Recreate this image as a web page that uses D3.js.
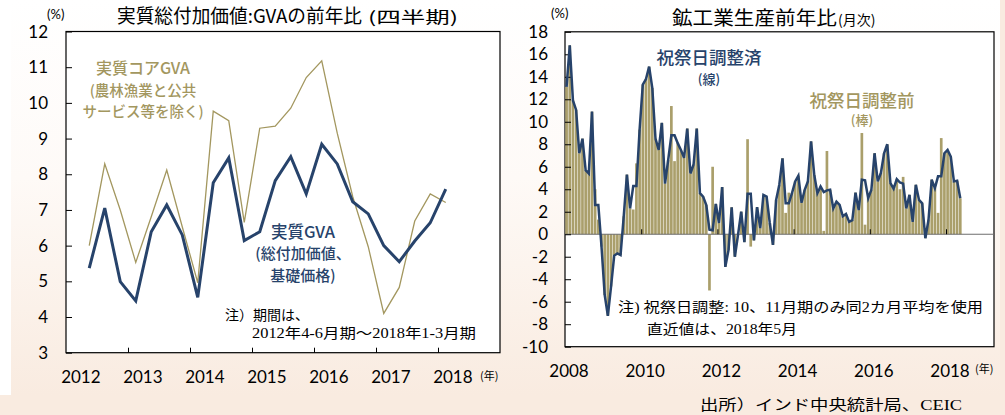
<!DOCTYPE html>
<html>
<head>
<meta charset="utf-8">
<script src="https://cdnjs.cloudflare.com/ajax/libs/d3/7.8.5/d3.min.js"></script>
<style>
body { margin: 0; background: #f9ebe0; }
#canvas { width: 1005px; height: 415px; }
</style>
</head>
<body>
<div id="canvas"></div>
<script>
"use strict"

/* data: left chart, quarterly 2012 Apr-Jun .. 2018 Jan-Mar */
let gvaStart = 2012.25;
let gvaReal = [5.37, 7.05, 4.99, 4.45, 6.39, 7.14, 6.30, 4.55, 7.76, 8.46, 6.14, 6.39,
    7.82, 8.49, 7.45, 8.84, 8.29, 7.23, 6.89, 6.00, 5.55, 6.13, 6.64, 7.58];
let gvaCore = [6.00, 8.29, 7.00, 5.53, 6.81, 8.12, 6.53, 4.96, 9.77, 9.50, 6.65, 9.29,
    9.35, 9.85, 10.71, 11.18, 9.15, 7.37, 5.97, 4.10, 4.83, 6.69, 7.45, 7.21];
let gvaYears = [2012, 2013, 2014, 2015, 2016, 2017, 2018];
let gvaTicks = [3, 4, 5, 6, 7, 8, 9, 10, 11, 12];

/* data: right chart, monthly 2008 Jan .. 2018 May */
let ipStart = 2008;
let ipAdjusted = [13.1, 16.8, 11.9, 11.05, 7.2, 8.5, 5.7, 5.4, 10.9, 2.6, 2.6, -1.1,
    -5.4, -7.25, -4.65, -1.9, -1.7, -1.85, 1.6, 5.3, 2.3, 4.3, 4.3, 9.3,
    13.3, 13.8, 14.9, 13.0, 8.5, 7.5, 9.9, 4.5, 6.6, 8.8, 8.8, 8.1,
    7.5, 6.8, 9.4, 5.4, 6.2, 9.4, 3.65, 3.35, 2.6, 0.4, 0.35, 2.7,
    1.0, 4.2, -2.9, -1.4, 2.4, -2.0, -0.05, 2.0, -0.7, 3.6, 3.6, -0.55,
    2.4, 0.55, 3.5, 3.35, 1.0, -0.95, 3.05, 4.4, 6.75, 2.75, 2.75, 3.65,
    4.7, 5.2, 2.8, 3.95, 4.7, 8.25, 5.3, 3.65, 4.25, 3.75, 3.9, 3.95,
    2.3, 2.9, 2.6, 1.6, 1.8, 1.1, 1.25, 3.7, 2.15, 4.85, 4.8, 3.2,
    3.95, 7.2, 4.7, 5.45, 7.2, 8.0, 4.55, 4.05, 4.9, 4.6, 4.5, 2.3,
    3.5, 1.1, 4.4, 3.05, 2.75, -0.35, 1.3, 4.85, 4.1, 5.15, 5.15, 7.2,
    7.5, 6.9, 4.7, 4.75, 3.2];
let ipRaw = [13.1, 16.8, 11.9, 11.05, 7.2, 8.5, 5.7, 5.4, 10.9, 4.0, 1.3, -1.1,
    -5.4, -7.25, -4.65, -1.9, -1.7, -1.85, 1.6, 5.3, 2.3, 2.2, 6.3, 9.3,
    13.3, 13.8, 14.9, 13.0, 8.5, 7.5, 9.9, 4.5, 6.6, 11.4, 6.5, 8.1,
    7.5, 6.8, 9.4, 5.4, 6.2, 9.4, 3.65, 3.35, 2.6, -5.0, 6.0, 2.7,
    1.0, 4.2, -2.9, -1.4, 2.4, -2.0, -0.05, 2.0, -0.7, 8.45, -1.1, -0.55,
    2.4, 0.55, 3.5, 3.35, 1.0, -0.95, 3.05, 4.4, 6.75, 1.9, 3.7, 3.65,
    4.7, 5.2, 2.8, 3.95, 4.7, 8.25, 5.3, 3.65, 4.25, 0.3, 7.4, 3.95,
    2.3, 2.9, 2.6, 1.6, 1.8, 1.1, 1.25, 3.7, 2.15, 9.0, 0.85, 3.2,
    3.95, 7.2, 4.7, 5.45, 7.2, 8.0, 4.55, 4.05, 4.9, 4.0, 5.1, 2.3,
    3.5, 1.1, 4.4, 3.05, 2.75, -0.35, 1.3, 4.85, 4.1, 1.9, 8.55, 7.2,
    7.5, 6.9, 4.7, 4.75, 3.2];
let ipYears = [2008, 2010, 2012, 2014, 2016, 2018];
let ipTicks = [-10, -8, -6, -4, -2, 0, 2, 4, 6, 8, 10, 12, 14, 16, 18];

let navy = "#27436b";
let olive = "#a3975f";
let barFill = "#aa9f6b";
let numFont = "'Liberation Sans Narrow', Lato, sans-serif";
let jpFont = "'Noto Sans CJK JP', sans-serif";
let noteFont = "'Liberation Serif', 'Noto Sans CJK JP', serif";

let drawing = d3.select("#canvas")
    .append("svg")
    .attr("width", 1005)
    .attr("height", 415);

/* background: white fading into peach */
let grad = drawing.append("defs").append("linearGradient")
    .attr("id", "bg")
    .attr("x1", 0).attr("y1", 0).attr("x2", 0).attr("y2", 1);
grad.append("stop").attr("offset", "0%").attr("stop-color", "#ffffff");
grad.append("stop").attr("offset", "45%").attr("stop-color", "#fefaf7");
grad.append("stop").attr("offset", "100%").attr("stop-color", "#f9ebe0");

drawing.append("rect")
    .attr("x", 0).attr("y", 0)
    .attr("width", 1000).attr("height", 395)
    .attr("fill", "url(#bg)");

drawing.append("rect")
    .attr("x", 0).attr("y", 0)
    .attr("width", 11).attr("height", 395)
    .attr("fill", "#ffffff");

/* ---------- left chart ---------- */
let xL = d3.scaleLinear().domain([2012, 2019]).range([66, 500]);
let yL = d3.scaleLinear().domain([3, 12]).range([352.7, 31.5]);

drawing.append("rect")
    .attr("x", xL(2012)).attr("y", yL(12))
    .attr("width", xL(2019) - xL(2012))
    .attr("height", yL(3) - yL(12))
    .attr("fill", "#ffffff")
    .attr("stroke", "#000000")
    .attr("stroke-width", 1.2);

/* y axis, ticks inside */
let leftAxis = drawing.append("g")
    .attr("transform", "translate(" + xL(2012) + ",0)")
    .call(d3.axisRight(yL).tickValues(gvaTicks).tickSize(6).tickFormat(""));
leftAxis.select(".domain").remove();

drawing.selectAll(".yLabL")
    .data(gvaTicks)
    .enter().append("text")
    .attr("x", 48)
    .attr("y", d => yL(d) + 6)
    .attr("text-anchor", "end")
    .attr("font-family", numFont)
    .attr("font-size", 17)
    .text(d => d);

/* x axis ticks at year boundaries, pointing up */
let bottomAxis = drawing.append("g")
    .attr("transform", "translate(0," + yL(3) + ")")
    .call(d3.axisTop(xL).tickValues(gvaYears.slice(1)).tickSize(5).tickFormat(""));
bottomAxis.select(".domain").remove();

drawing.selectAll(".xLabL")
    .data(gvaYears)
    .enter().append("text")
    .attr("x", d => xL(d + 0.24))
    .attr("y", 383)
    .attr("text-anchor", "middle")
    .attr("font-family", numFont)
    .attr("font-size", 17)
    .text(d => d);

drawing.append("text")
    .attr("x", 480).attr("y", 380)
    .attr("font-family", jpFont)
    .attr("font-size", 11)
    .text("(年)");

drawing.append("text")
    .attr("x", 47).attr("y", 19)
    .attr("font-family", numFont)
    .attr("font-size", 13)
    .text("(%)");

/* lines */
let lineL = d3.line()
    .x((d, i) => xL(gvaStart + i * 0.25 + 0.125))
    .y(d => yL(d));

drawing.append("path")
    .attr("d", lineL(gvaCore))
    .attr("fill", "none")
    .attr("stroke", olive)
    .attr("stroke-width", 1.3);

drawing.append("path")
    .attr("d", lineL(gvaReal))
    .attr("fill", "none")
    .attr("stroke", navy)
    .attr("stroke-width", 3)
    .attr("stroke-linejoin", "miter");

/* left titles and labels */
drawing.append("text")
    .attr("x", 117).attr("y", 23)
    .attr("font-family", jpFont)
    .attr("font-size", 19)
    .attr("textLength", 245)
    .attr("lengthAdjust", "spacingAndGlyphs")
    .text("実質総付加価値:GVAの前年比");
drawing.append("text")
    .attr("x", 368).attr("y", 23)
    .attr("font-family", jpFont)
    .attr("font-size", 16)
    .attr("textLength", 90)
    .attr("lengthAdjust", "spacingAndGlyphs")
    .text("(四半期)");

let coreLabel = ["実質コアGVA", "(農林漁業と公共", "サービス等を除く)"];
drawing.selectAll(".coreLab")
    .data(coreLabel)
    .enter().append("text")
    .attr("x", 143)
    .attr("y", (d, i) => [74, 96, 117][i])
    .attr("text-anchor", "middle")
    .attr("font-family", jpFont)
    .attr("font-weight", 500)
    .attr("font-size", (d, i) => i == 0 ? 16 : 14.5)
    .attr("fill", olive)
    .text(d => d);

let gvaLabel = ["実質GVA", "(総付加価値、", "基礎価格)"];
drawing.selectAll(".gvaLab")
    .data(gvaLabel)
    .enter().append("text")
    .attr("x", 303)
    .attr("y", (d, i) => [238, 259, 281][i])
    .attr("text-anchor", "middle")
    .attr("font-family", jpFont)
    .attr("font-weight", 500)
    .attr("font-size", (d, i) => i == 0 ? 16.5 : 15)
    .attr("fill", navy)
    .text(d => d);

drawing.append("text")
    .attr("x", 225).attr("y", 320)
    .attr("font-family", noteFont)
    .attr("font-size", 14)
    .text("注）期間は、");
drawing.append("text")
    .attr("x", 252).attr("y", 338)
    .attr("font-family", noteFont)
    .attr("font-size", 14)
    .attr("textLength", 224)
    .attr("lengthAdjust", "spacingAndGlyphs")
    .text("2012年4-6月期～2018年1-3月期");

/* ---------- right chart ---------- */
let xR = d3.scaleLinear().domain([2008, 2019.26]).range([565, 994]);
let yR = d3.scaleLinear().domain([-10, 18]).range([346.7, 31.8]);
let monthW = xR(2008 + 1 / 12) - xR(2008);

drawing.append("rect")
    .attr("x", xR(2008)).attr("y", yR(18))
    .attr("width", xR(2019.26) - xR(2008))
    .attr("height", yR(-10) - yR(18))
    .attr("fill", "#ffffff")
    .attr("stroke", "#000000")
    .attr("stroke-width", 1.2);

/* bars (before holiday adjustment) */
drawing.selectAll(".ipBar")
    .data(ipRaw)
    .enter().append("rect")
    .attr("x", (d, i) => xR(ipStart + i / 12) + 0.25)
    .attr("y", d => yR(Math.max(0, d)))
    .attr("width", monthW - 0.5)
    .attr("height", d => Math.abs(yR(d) - yR(0)))
    .attr("fill", barFill);

/* zero line */
drawing.append("line")
    .attr("x1", xR(2008)).attr("x2", xR(2019.26))
    .attr("y1", yR(0)).attr("y2", yR(0))
    .attr("stroke", "#6e6e6e")
    .attr("stroke-width", 1.2);

/* ticks */
let rightAxis = drawing.append("g")
    .attr("transform", "translate(" + xR(2008) + ",0)")
    .call(d3.axisRight(yR).tickValues(ipTicks).tickSize(6).tickFormat(""));
rightAxis.select(".domain").remove();

let zeroAxis = drawing.append("g")
    .attr("transform", "translate(0," + yR(0) + ")")
    .call(d3.axisTop(xR).tickValues(ipYears.slice(1)).tickSize(5).tickFormat(""));
zeroAxis.select(".domain").remove();

drawing.selectAll(".yLabR")
    .data(ipTicks)
    .enter().append("text")
    .attr("x", 548)
    .attr("y", d => yR(d) + 6)
    .attr("text-anchor", "end")
    .attr("font-family", numFont)
    .attr("font-size", 17)
    .text(d => d);

drawing.selectAll(".xLabR")
    .data(ipYears)
    .enter().append("text")
    .attr("x", d => xR(d) + 4)
    .attr("y", 377)
    .attr("text-anchor", "middle")
    .attr("font-family", numFont)
    .attr("font-size", 17)
    .text(d => d);

drawing.append("text")
    .attr("x", 975).attr("y", 373)
    .attr("font-family", jpFont)
    .attr("font-size", 11)
    .text("(年)");

drawing.append("text")
    .attr("x", 551).attr("y", 18)
    .attr("font-family", numFont)
    .attr("font-size", 13)
    .text("(%)");

/* adjusted line */
let lineR = d3.line()
    .x((d, i) => xR(ipStart + (i + 0.5) / 12))
    .y(d => yR(d));

drawing.append("path")
    .attr("d", lineR(ipAdjusted))
    .attr("fill", "none")
    .attr("stroke", navy)
    .attr("stroke-width", 2.5);

/* right titles and labels */
drawing.append("text")
    .attr("x", 672).attr("y", 25)
    .attr("font-family", jpFont)
    .attr("font-size", 19)
    .attr("textLength", 165)
    .attr("lengthAdjust", "spacingAndGlyphs")
    .text("鉱工業生産前年比");
drawing.append("text")
    .attr("x", 838).attr("y", 25)
    .attr("font-family", jpFont)
    .attr("font-size", 14)
    .text("(月次)");

drawing.append("text")
    .attr("x", 709).attr("y", 64)
    .attr("text-anchor", "middle")
    .attr("font-family", jpFont)
    .attr("font-weight", 500)
    .attr("font-size", 17.5)
    .attr("fill", navy)
    .text("祝祭日調整済");
drawing.append("text")
    .attr("x", 709).attr("y", 84)
    .attr("text-anchor", "middle")
    .attr("font-family", jpFont)
    .attr("font-weight", 500)
    .attr("font-size", 13)
    .attr("fill", navy)
    .text("(線)");

drawing.append("text")
    .attr("x", 862).attr("y", 107)
    .attr("text-anchor", "middle")
    .attr("font-family", jpFont)
    .attr("font-weight", 500)
    .attr("font-size", 17.5)
    .attr("fill", olive)
    .text("祝祭日調整前");
drawing.append("text")
    .attr("x", 862).attr("y", 125)
    .attr("text-anchor", "middle")
    .attr("font-family", jpFont)
    .attr("font-weight", 500)
    .attr("font-size", 13)
    .attr("fill", olive)
    .text("(棒)");

drawing.append("text")
    .attr("x", 618).attr("y", 312)
    .attr("font-family", noteFont)
    .attr("font-size", 14)
    .attr("textLength", 365)
    .attr("lengthAdjust", "spacingAndGlyphs")
    .text("注) 祝祭日調整: 10、11月期のみ同2カ月平均を使用");
drawing.append("text")
    .attr("x", 647).attr("y", 334)
    .attr("font-family", noteFont)
    .attr("font-size", 14)
    .attr("textLength", 150)
    .attr("lengthAdjust", "spacingAndGlyphs")
    .text("直近値は、2018年5月");

/* source */
drawing.append("text")
    .attr("x", 700).attr("y", 410)
    .attr("font-family", noteFont)
    .attr("font-size", 15)
    .attr("textLength", 262)
    .attr("lengthAdjust", "spacingAndGlyphs")
    .text("出所）インド中央統計局、CEIC");
</script>
</body>
</html>
